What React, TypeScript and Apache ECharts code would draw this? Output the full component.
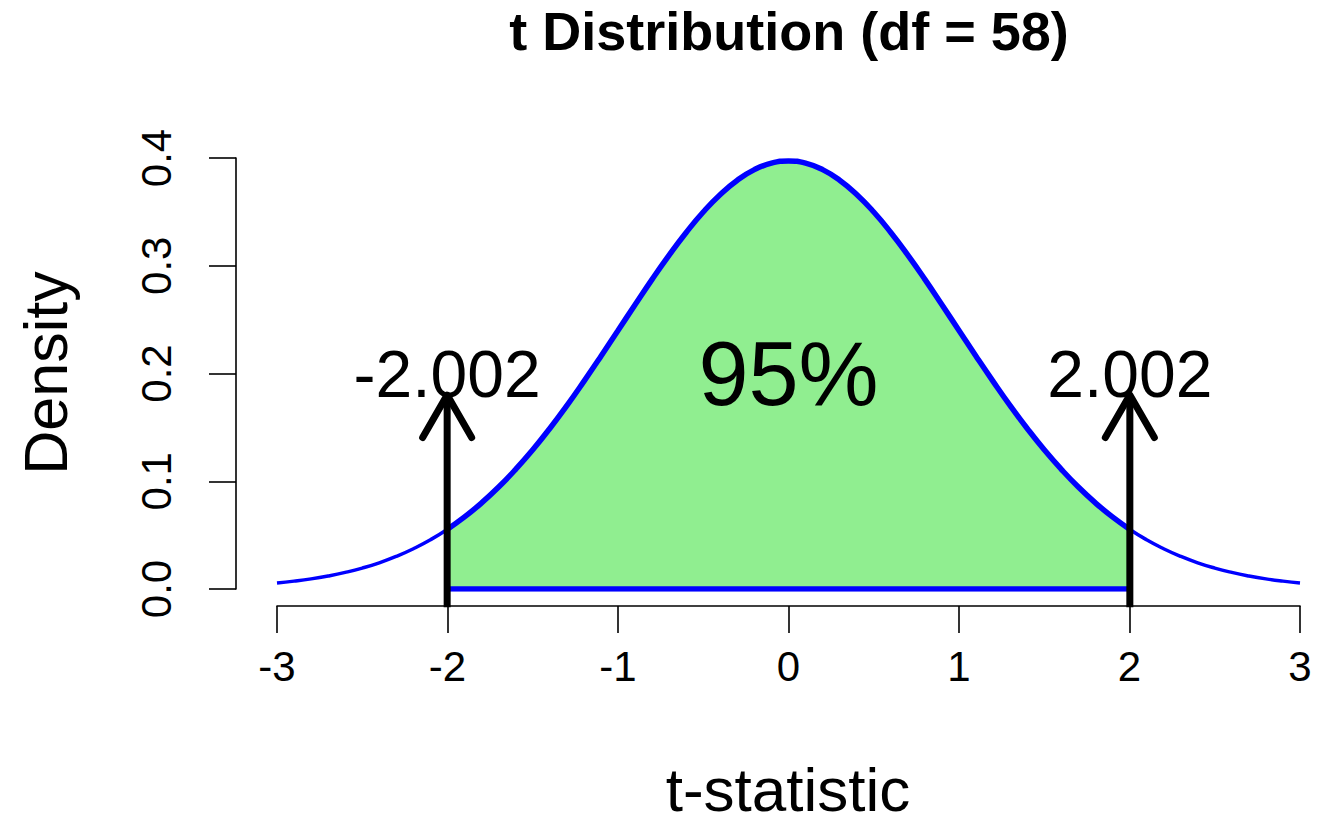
import React, { useEffect, useRef } from "react";
import * as echarts from "echarts";

// t-statistic grid for the density curve (df = 58)
const tValues = [
  -3.0, -2.9, -2.8, -2.7, -2.6, -2.5, -2.4, -2.3, -2.2, -2.1,
  -2.0, -1.9, -1.8, -1.7, -1.6, -1.5, -1.4, -1.3, -1.2, -1.1,
  -1.0, -0.9, -0.8, -0.7, -0.6, -0.5, -0.4, -0.3, -0.2, -0.1,
  0.0, 0.1, 0.2, 0.3, 0.4, 0.5, 0.6, 0.7, 0.8, 0.9,
  1.0, 1.1, 1.2, 1.3, 1.4, 1.5, 1.6, 1.7, 1.8, 1.9,
  2.0, 2.1, 2.2, 2.3, 2.4, 2.5, 2.6, 2.7, 2.8, 2.9, 3.0,
];
const densityValues = [
  0.0056, 0.0073, 0.0094, 0.0121, 0.0154, 0.0194, 0.0243, 0.0303, 0.0374, 0.0457,
  0.0555, 0.0669, 0.0799, 0.0946, 0.1111, 0.1292, 0.149, 0.1702, 0.1927, 0.216,
  0.2399, 0.2638, 0.2874, 0.3099, 0.3309, 0.3499, 0.3662, 0.3794, 0.3892, 0.3952,
  0.3972, 0.3952, 0.3892, 0.3794, 0.3662, 0.3499, 0.3309, 0.3099, 0.2874, 0.2638,
  0.2399, 0.216, 0.1927, 0.1702, 0.149, 0.1292, 0.1111, 0.0946, 0.0799, 0.0669,
  0.0555, 0.0457, 0.0374, 0.0303, 0.0243, 0.0194, 0.0154, 0.0121, 0.0094, 0.0073, 0.0056,
];

// Critical values and the central 95% region between them
const criticalValues = [-2.002, 2.002];
const shadeX = [
  -2.002, -1.9, -1.8, -1.7, -1.6, -1.5, -1.4, -1.3, -1.2, -1.1,
  -1.0, -0.9, -0.8, -0.7, -0.6, -0.5, -0.4, -0.3, -0.2, -0.1,
  0.0, 0.1, 0.2, 0.3, 0.4, 0.5, 0.6, 0.7, 0.8, 0.9,
  1.0, 1.1, 1.2, 1.3, 1.4, 1.5, 1.6, 1.7, 1.8, 1.9, 2.002,
];
const shadeY = [
  0.0553, 0.0669, 0.0799, 0.0946, 0.1111, 0.1292, 0.149, 0.1702, 0.1927, 0.216,
  0.2399, 0.2638, 0.2874, 0.3099, 0.3309, 0.3499, 0.3662, 0.3794, 0.3892, 0.3952,
  0.3972, 0.3952, 0.3892, 0.3794, 0.3662, 0.3499, 0.3309, 0.3099, 0.2874, 0.2638,
  0.2399, 0.216, 0.1927, 0.1702, 0.149, 0.1292, 0.1111, 0.0946, 0.0799, 0.0669, 0.0553,
];

// Arrows run from the bottom of the plot region up to this density
const arrowBottom = -0.017;
const arrowTop = 0.18;

// Annotations placed in data coordinates
const noteX = [-2.002, 0, 2.002];
const noteY = [0.2, 0.2, 0.2];
const noteText = ["-2.002", "95%", "2.002"];
const noteSize = [66, 90, 66];

// Axis ticks
const xTicks = [-3, -2, -1, 0, 1, 2, 3];
const yTicks = [0, 0.1, 0.2, 0.3, 0.4];

const FONT = "'Liberation Sans', Arial, Helvetica, sans-serif";
const BLUE = "#0000ff";
const GREEN = "#90ee90";

export default function App() {
  const ref = useRef<HTMLDivElement>(null);

  useEffect(() => {
    if (!ref.current) return;
    const chart = echarts.init(ref.current, undefined, { renderer: "svg" });

    const curve = tValues.map((x, i) => [x, densityValues[i]]);
    const shade = shadeX.map((x, i) => [x, shadeY[i]]);
    const baseLine = [
      [criticalValues[0], 0],
      [criticalValues[1], 0],
    ];
    const arrows = criticalValues.map((x) => [x, arrowBottom, arrowTop]);
    const notes = noteX.map((x, i) => ({
      value: [x, noteY[i]],
      label: {
        show: true,
        position: "inside",
        formatter: noteText[i],
        fontSize: noteSize[i],
        fontFamily: FONT,
        color: "#000000",
        opacity: 1,
      },
    }));

    chart.setOption({
      animation: false,
      backgroundColor: "#ffffff",
      grid: { left: 277, top: 158, width: 1023, height: 431, containLabel: false },
      xAxis: {
        type: "value",
        min: xTicks[0],
        max: xTicks[xTicks.length - 1],
        interval: 1,
        offset: 17,
        axisLine: { show: true, onZero: false, lineStyle: { color: "#000", width: 1.6 } },
        axisTick: { show: true, length: 27, lineStyle: { color: "#000", width: 1.6 } },
        axisLabel: {
          margin: 60,
          fontSize: 42,
          fontFamily: FONT,
          color: "#000",
          verticalAlign: "middle",
          formatter: (v: number) => String(v),
        },
        splitLine: { show: false },
      },
      yAxis: {
        type: "value",
        min: yTicks[0],
        max: yTicks[yTicks.length - 1],
        interval: 0.1,
        offset: 41,
        axisLine: { show: true, onZero: false, lineStyle: { color: "#000", width: 1.6 } },
        axisTick: { show: true, length: 27, lineStyle: { color: "#000", width: 1.6 } },
        axisLabel: {
          rotate: 90,
          margin: 59,
          fontSize: 42,
          fontFamily: FONT,
          color: "#000",
          formatter: (v: number) => v.toFixed(1),
        },
        splitLine: { show: false },
      },
      graphic: [
        {
          type: "text",
          x: 789,
          y: 31,
          style: {
            text: "t Distribution (df = 58)",
            fontSize: 54,
            fontWeight: "bold",
            fontFamily: FONT,
            fill: "#000",
            textAlign: "center",
            textVerticalAlign: "middle",
          },
        },
        {
          type: "text",
          x: 788,
          y: 789,
          style: {
            text: "t-statistic",
            fontSize: 62,
            lineHeight: 44,
            fontFamily: FONT,
            fill: "#000",
            textAlign: "center",
            textVerticalAlign: "middle",
          },
        },
        {
          type: "text",
          x: 46,
          y: 373,
          rotation: Math.PI / 2,
          style: {
            text: "Density",
            fontSize: 61,
            fontFamily: FONT,
            fill: "#000",
            textAlign: "center",
            textVerticalAlign: "middle",
          },
        },
      ],
      series: [
        {
          type: "line",
          data: curve,
          smooth: true,
          showSymbol: false,
          silent: true,
          lineStyle: { color: BLUE, width: 3.5 },
          z: 2,
        },
        {
          type: "line",
          data: shade,
          smooth: true,
          showSymbol: false,
          silent: true,
          lineStyle: { color: BLUE, width: 5.5 },
          areaStyle: { color: GREEN, opacity: 1 },
          z: 3,
        },
        {
          type: "line",
          data: baseLine,
          showSymbol: false,
          silent: true,
          lineStyle: { color: BLUE, width: 5.5 },
          z: 4,
        },
        {
          type: "custom",
          data: arrows,
          clip: false,
          silent: true,
          z: 5,
          encode: { x: 0, y: [1, 2] },
          renderItem: (_params: any, api: any) => {
            const x = api.value(0);
            const p0 = api.coord([x, api.value(1)]);
            const p1 = api.coord([x, api.value(2)]);
            const headLen = 49;
            const ang = Math.PI / 6;
            const dx = headLen * Math.sin(ang);
            const dy = headLen * Math.cos(ang);
            const style = {
              stroke: "#000",
              lineWidth: 7,
              lineCap: "round",
              lineJoin: "round",
              fill: null,
            };
            return {
              type: "group",
              children: [
                {
                  type: "line",
                  shape: { x1: p0[0], y1: p0[1], x2: p1[0], y2: p1[1] },
                  style: { ...style, lineCap: "butt" },
                },
                {
                  type: "polyline",
                  shape: {
                    points: [
                      [p1[0] - dx, p1[1] + dy],
                      [p1[0], p1[1]],
                      [p1[0] + dx, p1[1] + dy],
                    ],
                  },
                  style,
                },
              ],
            };
          },
        },
        {
          type: "scatter",
          data: notes,
          symbolSize: 0,
          silent: true,
          itemStyle: { opacity: 1, color: "#000" },
          z: 6,
        },
      ],
    });

    return () => chart.dispose();
  }, []);

  return (
    <div
      ref={ref}
      style={{ position: "fixed", left: 0, top: 0, width: 1317, height: 813, background: "#fff" }}
    />
  );
}
